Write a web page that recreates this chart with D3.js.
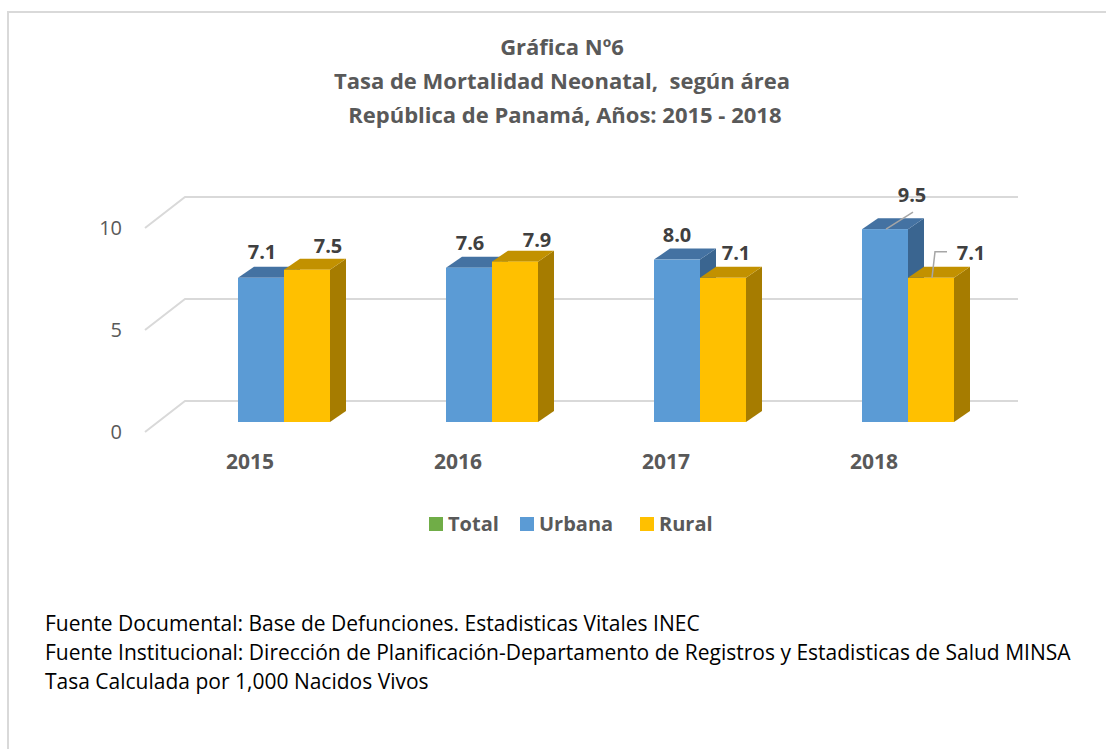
<!DOCTYPE html>
<html>
<head>
<meta charset="utf-8">
<script src="https://cdn.jsdelivr.net/npm/d3@7"></script>
<style>
  body { margin: 0; background: #fff; }
  text { font-family: "Open Sans", Lato, sans-serif; }
</style>
</head>
<body>
<svg width="1106" height="749"></svg>
<script>
const years = ["2015", "2016", "2017", "2018"];
const series = ["Urbana", "Rural"];
const urbana = [7.1, 7.6, 8.0, 9.5];
const rural = [7.5, 7.9, 7.1, 7.1];
const yTicks = [0, 5, 10];
const legendItems = ["Total", "Urbana", "Rural"];
const titleLines = ["Gráfica Nº6", "Tasa de Mortalidad Neonatal,  según área", " República de Panamá, Años: 2015 - 2018"];
const notes = [
  "Fuente Documental: Base de Defunciones. Estadisticas Vitales INEC",
  "Fuente Institucional: Dirección de Planificación-Departamento de Registros y Estadisticas de Salud MINSA",
  "Tasa Calculada por 1,000 Nacidos Vivos"
];

const svg = d3.select("svg");
const W = 1106, H = 749;

const colors = {
  Total: { front: "#70AD47" },
  Urbana: { front: "#5B9BD5", top: "#4472A2", side: "#3A6590" },
  Rural: { front: "#FFC000", top: "#C29100", side: "#A67C00" }
};

// outer frame (top + left only visible)
svg.append("path")
  .attr("d", `M8,${H} L8,12 L${W},12`)
  .attr("fill", "none")
  .attr("stroke", "#d9d9d9")
  .attr("stroke-width", 2);

// title
svg.append("g").selectAll("text")
  .data(titleLines)
  .enter().append("text")
  .attr("x", 562)
  .attr("y", (d, i) => 55 + i * 34)
  .attr("text-anchor", "middle")
  .attr("fill", "#595959")
  .style("font-size", "22px")
  .style("font-weight", "bold")
  .style("white-space", "pre")
  .text(d => d);

// scales: back wall, front wall, bars
const wallDx = 40, wallDy = 31;
const yBack = d3.scaleLinear().domain([0, 10]).range([401, 197]);
const yBar = d3.scaleLinear().domain([0, 10]).range([422, 219]);
const x = d3.scaleBand().domain(years).range([180, 1012]);
const xs = d3.scaleBand().domain(series).range([-46, 46]);
const barDx = 16, barDy = -11;

// gridlines (back wall + floor/side diagonals)
const grid = svg.append("g");
yTicks.forEach(t => {
  const yb = yBack(t);
  grid.append("path")
    .attr("d", `M${185 - wallDx},${yb + wallDy} L185,${yb} L1018,${yb}`)
    .attr("fill", "none")
    .attr("stroke", "#d9d9d9")
    .attr("stroke-width", 2);
  grid.append("text")
    .attr("x", 122)
    .attr("y", yb + wallDy + 7)
    .attr("text-anchor", "end")
    .attr("fill", "#595959")
    .style("font-size", "20px")
    .text(t);
});

// bars
const bars = [];
years.forEach((yr, i) => {
  bars.push({ year: yr, s: "Urbana", v: urbana[i] });
  bars.push({ year: yr, s: "Rural", v: rural[i] });
});

const gBars = svg.append("g");
bars.forEach(d => {
  const cx = x(d.year) + x.bandwidth() / 2;
  const x0 = cx + xs(d.s), x1 = x0 + xs.bandwidth();
  const yt = yBar(d.v), yb = yBar(0);
  const c = colors[d.s];
  gBars.append("path")
    .attr("d", `M${x1},${yt} L${x1 + barDx},${yt + barDy} L${x1 + barDx},${yb + barDy} L${x1},${yb} Z`)
    .attr("fill", c.side);
  gBars.append("path")
    .attr("d", `M${x0},${yt} L${x1},${yt} L${x1 + barDx},${yt + barDy} L${x0 + barDx},${yt + barDy} Z`)
    .attr("fill", c.top);
  gBars.append("rect")
    .attr("x", x0).attr("y", yt)
    .attr("width", x1 - x0).attr("height", yb - yt)
    .attr("fill", c.front);
});

// data labels (Excel placement offsets from the bar's front-top centre)
const labelOffsets = {
  "2015": { Urbana: [1, -26], Rural: [21, -24] },
  "2016": { Urbana: [1, -25], Rural: [22, -22] },
  "2017": { Urbana: [0, -25], Rural: [13, -25] },
  "2018": { Urbana: [27, -34], Rural: [40, -25] }
};
const gLab = svg.append("g");
bars.forEach(d => {
  const cx = x(d.year) + x.bandwidth() / 2;
  const bx = cx + xs(d.s) + xs.bandwidth() / 2;
  const by = yBar(d.v);
  const off = labelOffsets[d.year][d.s];
  gLab.append("text")
    .attr("x", bx + off[0])
    .attr("y", by + off[1] + 7)
    .attr("text-anchor", "middle")
    .attr("fill", "#404040")
    .style("font-size", "20px")
    .style("font-weight", "bold")
    .text(d3.format(".1f")(d.v));
});

// leader lines for 2018 labels
{
  const cx = x("2018") + x.bandwidth() / 2;
  const ux = cx + xs("Urbana") + xs.bandwidth() / 2;
  const uy = yBar(urbana[3]);
  gLab.append("path")
    .attr("d", `M${ux + 1},${uy} L${ux + 28},${uy - 17}`)
    .attr("fill", "none").attr("stroke", "#a6a6a6").attr("stroke-width", 1.5);
  const rx = cx + xs("Rural") + xs.bandwidth() / 2;
  const ry = yBar(rural[3]);
  gLab.append("path")
    .attr("d", `M${rx + 1},${ry} L${rx + 4},${ry - 26} L${rx + 16},${ry - 26}`)
    .attr("fill", "none").attr("stroke", "#a6a6a6").attr("stroke-width", 1.5);
}

// category labels (front plane)
svg.append("g").selectAll("text")
  .data(years)
  .enter().append("text")
  .attr("x", d => x(d) + x.bandwidth() / 2 - 34)
  .attr("y", 469)
  .attr("text-anchor", "middle")
  .attr("fill", "#595959")
  .style("font-size", "21px")
  .style("font-weight", "bold")
  .text(d => d);

// legend
const legendX = [429, 520, 640];
const lg = svg.append("g");
legendItems.forEach((name, i) => {
  lg.append("rect")
    .attr("x", legendX[i]).attr("y", 517)
    .attr("width", 14).attr("height", 14)
    .attr("fill", colors[name].front);
  lg.append("text")
    .attr("x", legendX[i] + 19)
    .attr("y", 531)
    .attr("fill", "#595959")
    .style("font-size", "20px")
    .style("font-weight", "bold")
    .text(name);
});

// notes
svg.append("g").selectAll("text")
  .data(notes)
  .enter().append("text")
  .attr("x", 45)
  .attr("y", (d, i) => 631 + i * 29)
  .attr("fill", "#000")
  .style("font-size", "21px")
  .text(d => d);
</script>
</body>
</html>
